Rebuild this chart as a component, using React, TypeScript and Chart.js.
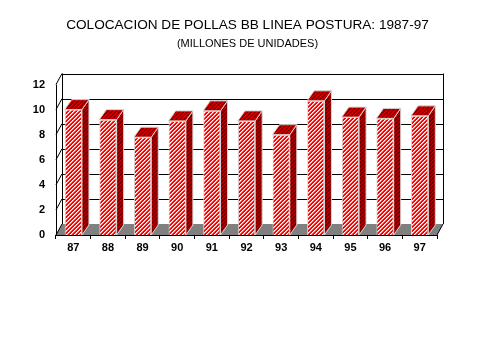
import React, { useEffect, useRef } from 'react';
import { Chart, registerables } from 'chart.js';

Chart.register(...registerables);

const TITLE = 'COLOCACION DE POLLAS BB LINEA POSTURA: 1987-97';
const SUBTITLE = '(MILLONES DE UNIDADES)';
const categories = ['87', '88', '89', '90', '91', '92', '93', '94', '95', '96', '97'];
const values = [10.0, 9.2, 7.8, 9.1, 9.9, 9.1, 8.0, 10.7, 9.4, 9.3, 9.5];
const yTicks = [0, 2, 4, 6, 8, 10, 12];

const FONT = '"Liberation Sans", Arial, Helvetica, sans-serif';

function makePattern(
  ctx: CanvasRenderingContext2D,
  base: string,
  stripe: string,
  edge: string,
  period: number,
  stripeW: number
): CanvasPattern | string {
  const c = document.createElement('canvas');
  c.width = period;
  c.height = period;
  const g = c.getContext('2d');
  if (!g) return base;
  for (let yy = 0; yy < period; yy++) {
    for (let xx = 0; xx < period; xx++) {
      const k = (xx + yy) % period;
      g.fillStyle = k < stripeW ? stripe : k === stripeW ? edge : base;
      g.fillRect(xx, yy, 1, 1);
    }
  }
  return ctx.createPattern(c, 'repeat') || base;
}

export default function App() {
  const ref = useRef<HTMLCanvasElement | null>(null);

  useEffect(() => {
    const canvas = ref.current;
    if (!canvas) return;
    const ctx0 = canvas.getContext('2d') as CanvasRenderingContext2D;
    const frontPat = makePattern(ctx0, '#ff0000', '#ffffff', '#ff9090', 4, 1);
    const topPat = makePattern(ctx0, '#8c0000', '#e00000', '#b80000', 4, 1);
    const sidePat = makePattern(ctx0, '#700000', '#c00000', '#900000', 4, 1);

    const depthPlugin = {
      id: 'depth3d',
      beforeDatasetsDraw(chart: any) {
        const { ctx, chartArea, scales } = chart;
        const ys = scales.y;
        const L = chartArea.left;
        const R = chartArea.right;
        const T = chartArea.top;
        const B = chartArea.bottom;
        const dx = 6;
        const dy = -11;
        const h = (v: number) => Math.round(v) + 0.5;
        ctx.save();
        ctx.lineWidth = 1;
        ctx.strokeStyle = '#000';

        // floor
        ctx.fillStyle = '#808080';
        ctx.beginPath();
        ctx.moveTo(L, B);
        ctx.lineTo(R, B);
        ctx.lineTo(R + dx, B + dy);
        ctx.lineTo(L + dx, B + dy);
        ctx.closePath();
        ctx.fill();

        ctx.beginPath();
        yTicks.forEach((v) => {
          const py = ys.getPixelForValue(v);
          if (v > 0) {
            ctx.moveTo(L + dx, h(py + dy));
            ctx.lineTo(R + dx, h(py + dy));
          }
          ctx.moveTo(L, py);
          ctx.lineTo(L + dx, py + dy);
        });
        ctx.moveTo(h(L + dx), T + dy);
        ctx.lineTo(h(L + dx), B + dy);
        ctx.moveTo(h(R + dx), T + dy);
        ctx.lineTo(h(R + dx), B + dy);
        ctx.moveTo(h(L), T);
        ctx.lineTo(h(L), B);
        ctx.moveTo(L, h(B));
        ctx.lineTo(R, h(B));
        ctx.moveTo(R, B);
        ctx.lineTo(R + dx, B + dy);
        ctx.stroke();

        const bdx = 7;
        const bdy = -10;
        const meta = chart.getDatasetMeta(0);
        ctx.strokeStyle = '#d6d6d6';
        meta.data.forEach((bar: any) => {
          const p = bar.getProps(['x', 'y', 'base', 'width'], true);
          const left = p.x - p.width / 2;
          const right = p.x + p.width / 2;
          const top = p.y;
          const bottom = p.base;
          ctx.fillStyle = sidePat;
          ctx.beginPath();
          ctx.moveTo(right, top);
          ctx.lineTo(right + bdx, top + bdy);
          ctx.lineTo(right + bdx, bottom + bdy);
          ctx.lineTo(right, bottom);
          ctx.closePath();
          ctx.fill();
          ctx.stroke();
          ctx.fillStyle = topPat;
          ctx.beginPath();
          ctx.moveTo(left, top);
          ctx.lineTo(right, top);
          ctx.lineTo(right + bdx, top + bdy);
          ctx.lineTo(left + bdx, top + bdy);
          ctx.closePath();
          ctx.fill();
          ctx.stroke();
        });
        ctx.restore();
      },
    };

    const chart = new Chart(canvas, {
      type: 'bar',
      data: {
        labels: categories,
        datasets: [
          {
            data: values,
            backgroundColor: frontPat as any,
            borderColor: '#d6d6d6',
            borderWidth: 1,
            barPercentage: 0.5,
            categoryPercentage: 1,
            yAxisID: 'y',
          },
        ],
      },
      options: {
        responsive: false,
        animation: false,
        layout: { padding: { left: 16, right: 0, top: 0, bottom: 0 } },
        plugins: {
          legend: { display: false },
          tooltip: { enabled: false },
          title: {
            display: true,
            text: TITLE,
            color: '#000',
            font: { family: FONT, size: 13.6, weight: 'normal' },
            padding: { top: 17, bottom: 0 },
          },
          subtitle: {
            display: true,
            text: SUBTITLE,
            color: '#000',
            font: { family: FONT, size: 11, weight: 'normal' },
            padding: { top: 4, bottom: 34 },
          },
        },
        scales: {
          x: {
            grid: {
              display: true,
              drawOnChartArea: false,
              drawTicks: true,
              tickLength: 4,
              color: '#000',
              offset: true,
            },
            border: { display: false },
            ticks: {
              color: '#000',
              padding: 2,
              font: { family: FONT, size: 11, weight: 'bold' },
            },
            afterFit: (s: any) => {
              s.height = 124;
            },
          },
          y: {
            min: 0,
            max: 12,
            grid: { display: false },
            border: { display: false },
            ticks: {
              stepSize: 2,
              color: '#000',
              padding: 3,
              font: { family: FONT, size: 11, weight: 'bold' },
            },
            afterFit: (s: any) => {
              s.width = 40;
            },
          },
          yRight: {
            position: 'right',
            min: 0,
            max: 12,
            grid: { display: false },
            border: { display: false },
            ticks: { display: false },
            afterFit: (s: any) => {
              s.width = 42;
            },
          },
        },
      },
      plugins: [depthPlugin],
    });

    return () => chart.destroy();
  }, []);

  return (
    <div style={{ position: 'fixed', left: 0, top: 0, width: 479, height: 359, background: '#fff' }}>
      <canvas ref={ref} width={479} height={359} style={{ width: 479, height: 359 }} />
    </div>
  );
}
